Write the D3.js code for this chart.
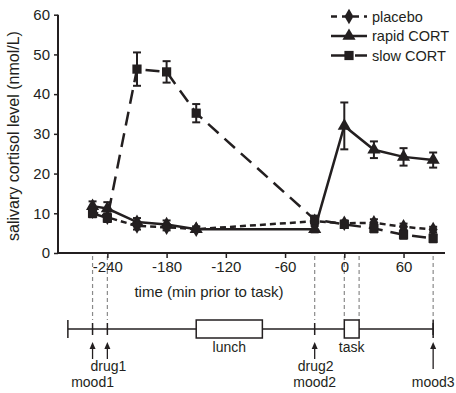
<!DOCTYPE html>
<html><head><meta charset="utf-8">
<script src="https://cdn.jsdelivr.net/npm/d3@7"></script>
<style>
html,body{margin:0;padding:0;background:#fff;}
text{font-family:"Liberation Sans",Arial,sans-serif;fill:#231f20;}
</style></head>
<body>
<svg id="c" width="456" height="393"></svg>
<script>
// ---- data ----
const times = [-255, -240, -210, -180, -150, -30, 0, 30, 60, 90];
const placebo = [10.5, 9.0, 6.8, 6.5, 6.0, 8.0, 7.5, 7.6, 6.6, 5.9];
const placeboErr = [1.0, 1.0, 0.9, 0.8, 0.6, 0.8, 0.7, 0.9, 0.8, 0.7];
const rapid = [11.8, 11.2, 7.8, 7.2, 6.0, 6.0, 32.0, 26.0, 24.2, 23.4];
const rapidErr = [1.2, 1.6, 1.0, 1.0, 0.7, 0.8, 5.9, 2.1, 2.2, 1.9];
const slow = [10.0, 8.8, 46.3, 45.6, 35.2, 8.4, 7.2, 6.2, 4.6, 3.7];
const slowErr = [1.0, 1.0, 4.2, 2.7, 2.3, 1.0, 0.7, 1.0, 1.0, 1.0];
const xTicks = [-240, -180, -120, -60, 0, 60];
const yTicks = [0, 10, 20, 30, 40, 50, 60];
const guideTimes = [-255, -240, -30, 0, 15, 90];
const timelineRange = [-280, 90];
const eventTicks = [-255, -240, -30, 90];
const boxes = [{label: "lunch", t0: -150, t1: -83}, {label: "task", t0: 0, t1: 15}];
const arrows = [
  {t: -255, labels: ["", "mood1"]},
  {t: -240, labels: ["drug1", ""]},
  {t: -30, labels: ["drug2", "mood2"]},
  {t: 90, labels: ["", "mood3"]}
];
const seriesNames = ["placebo", "rapid CORT", "slow CORT"];

// ---- layout ----
const svg = d3.select("#c");
const ink = "#231f20";
const x = d3.scaleLinear().domain([-290, 102]).range([58, 445]);
const y = d3.scaleLinear().domain([0, 60]).range([253, 14.7]);

// gray guide lines
svg.append("g").selectAll("line").data(guideTimes).join("line")
  .attr("x1", d => x(d)).attr("x2", d => x(d))
  .attr("y1", y(0) + 3).attr("y2", 320)
  .attr("stroke", "#8a8a8a").attr("stroke-width", 1.2).attr("stroke-dasharray", "4,3");

// axes
const xAxis = d3.axisBottom(x).tickValues(xTicks).tickSize(5).tickPadding(3)
  .tickFormat(d => d);
const gx = svg.append("g").attr("transform", `translate(0,${y(0)})`).call(xAxis);
gx.select(".domain").attr("stroke", ink).attr("stroke-width", 2).attr("d", `M${x(-290)},0H${x(102)}`);
gx.selectAll(".tick line").attr("stroke", ink).attr("stroke-width", 1.5);
gx.selectAll(".tick text").attr("font-size", 15).attr("fill", ink).attr("font-family", "Liberation Sans, Arial, sans-serif");

const yAxis = d3.axisLeft(y).tickValues(yTicks).tickSize(4).tickPadding(4);
const gy = svg.append("g").attr("transform", `translate(${x(-290)},0)`).call(yAxis);
gy.select(".domain").attr("stroke", ink).attr("stroke-width", 2).attr("d", `M0,${y(60)}V${y(0)}`);
gy.selectAll(".tick line").attr("stroke", ink).attr("stroke-width", 1.5);
gy.selectAll(".tick text").attr("font-size", 15).attr("fill", ink).attr("font-family", "Liberation Sans, Arial, sans-serif");

svg.append("text").attr("x", 209).attr("y", 297).attr("text-anchor", "middle")
  .attr("font-size", 15).text("time (min prior to task)");
svg.append("text").attr("transform", "translate(19,136) rotate(-90)").attr("text-anchor", "middle")
  .attr("font-size", 16).text("salivary cortisol level (nmol/L)");

// series
const series = [
  {name: seriesNames[0], vals: placebo, err: placeboErr, dash: "6,4", sym: d3.symbolDiamond, size: 70},
  {name: seriesNames[1], vals: rapid, err: rapidErr, dash: null, sym: d3.symbolTriangle, size: 75},
  {name: seriesNames[2], vals: slow, err: slowErr, dash: "14,8", sym: d3.symbolSquare, size: 85}
];
const line = d3.line().x(d => x(d.t)).y(d => y(d.v));
const plotOrder = [1, 0, 2];
plotOrder.forEach(i => {
  const s = series[i];
  const pts = times.map((t, k) => ({t, v: s.vals[k], e: s.err[k]}));
  const g = svg.append("g");
  g.append("path").datum(pts).attr("d", line).attr("fill", "none")
    .attr("stroke", ink).attr("stroke-width", 2.5)
    .attr("stroke-dasharray", s.dash);
  const eb = g.selectAll("g.eb").data(pts).join("g").attr("stroke", ink).attr("stroke-width", 2);
  eb.append("line").attr("x1", d => x(d.t)).attr("x2", d => x(d.t))
    .attr("y1", d => y(d.v - d.e)).attr("y2", d => y(d.v + d.e));
  eb.append("line").attr("x1", d => x(d.t) - 4).attr("x2", d => x(d.t) + 4)
    .attr("y1", d => y(d.v + d.e)).attr("y2", d => y(d.v + d.e));
  eb.append("line").attr("x1", d => x(d.t) - 4).attr("x2", d => x(d.t) + 4)
    .attr("y1", d => y(d.v - d.e)).attr("y2", d => y(d.v - d.e));
  g.selectAll("path.m").data(pts).join("path").attr("class", "m")
    .attr("d", d3.symbol().type(s.sym).size(s.size))
    .attr("transform", d => `translate(${x(d.t)},${y(d.v)})`)
    .attr("fill", ink);
});

// legend
const lg = svg.append("g");
series.forEach((s, i) => {
  const cy = 16.5 + i * 19.5;
  lg.append("line").attr("x1", 331).attr("x2", 367).attr("y1", cy).attr("y2", cy)
    .attr("stroke", ink).attr("stroke-width", 2.5)
    .attr("stroke-dasharray", i === 0 ? "6,5" : (i === 2 ? "14,10" : null));
  lg.append("path").attr("d", d3.symbol().type(s.sym).size(s.size))
    .attr("transform", `translate(349,${cy})`).attr("fill", ink);
  lg.append("text").attr("x", 372).attr("y", cy + 5).attr("font-size", 14.5).text(s.name);
});

// timeline
const ty = 329;
const tl = svg.append("g").attr("stroke", ink).attr("stroke-width", 1.5);
tl.append("line").attr("x1", x(timelineRange[0])).attr("x2", x(timelineRange[1])).attr("y1", ty).attr("y2", ty);
tl.selectAll("line.cap").data(timelineRange).join("line").attr("class", "cap")
  .attr("x1", d => x(d)).attr("x2", d => x(d)).attr("y1", ty - 9).attr("y2", ty + 9);
tl.selectAll("line.ev").data(eventTicks).join("line").attr("class", "ev")
  .attr("x1", d => x(d)).attr("x2", d => x(d)).attr("y1", ty - 6).attr("y2", ty + 6);
tl.selectAll("rect").data(boxes).join("rect")
  .attr("x", d => x(d.t0)).attr("width", d => x(d.t1) - x(d.t0))
  .attr("y", ty - 9).attr("height", 18).attr("fill", "#fff");
svg.selectAll("text.box").data(boxes).join("text").attr("class", "box")
  .attr("x", d => (x(d.t0) + x(d.t1)) / 2).attr("y", 352).attr("text-anchor", "middle")
  .attr("font-size", 14).text(d => d.label);

const ag = svg.append("g");
arrows.forEach(a => {
  const ax = x(a.t);
  const long = a.labels[0] === "" && a.t > 0;
  ag.append("line").attr("x1", ax).attr("x2", ax).attr("y1", 346).attr("y2", long ? 369 : 359)
    .attr("stroke", ink).attr("stroke-width", 1.3);
  ag.append("path").attr("d", `M${ax},342L${ax - 3},349L${ax + 3},349Z`).attr("fill", ink);
  if (a.labels[0]) ag.append("text").attr("x", ax + 1).attr("y", 371).attr("text-anchor", "middle")
    .attr("font-size", 14).text(a.labels[0]);
  if (a.labels[1]) ag.append("text").attr("x", ax).attr("y", 387).attr("text-anchor", "middle")
    .attr("font-size", 14).text(a.labels[1]);
});
</script>
</body></html>
